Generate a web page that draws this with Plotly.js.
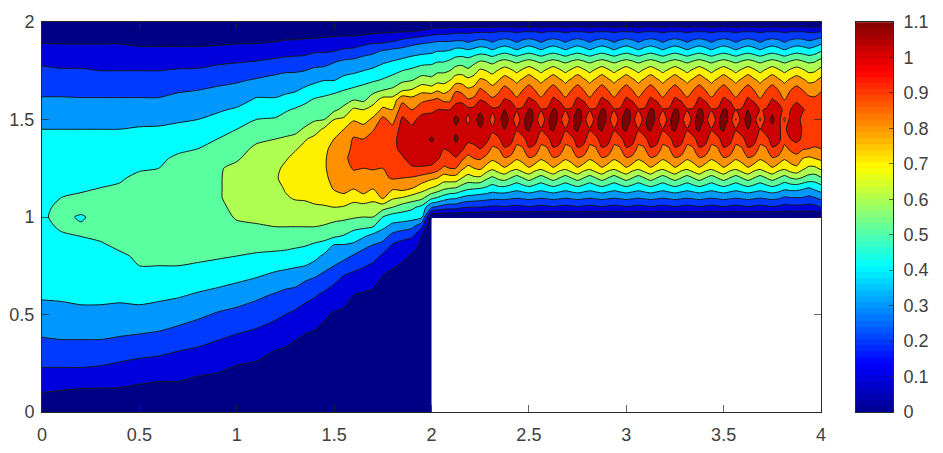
<!DOCTYPE html>
<html><head><meta charset="utf-8">
<script src="https://cdn.plot.ly/plotly-3.0.1.min.js"></script>
<style>html,body{margin:0;padding:0;background:#fff}#c{width:943px;height:453px}</style>
</head><body><div id="c"></div>
<script>
var yRows=[0,.1,.2,.3,.4,.5,.6,.7,.75,.8,.85,.9,.95,1,1.05,1.1,1.15,1.2,1.25,1.3,1.35,1.4,1.45,1.5,1.55,1.6,1.65,1.7,1.75,1.8,1.85,1.9,1.95,2];
var xLeft=[0,.1,.2,.3,.4,.5,.6,.7,.8,.9,1,1.1,1.2,1.25,1.3,1.35,1.4,1.45,1.5,1.55,1.6,1.65,1.7,1.75,1.8,1.85,1.9,1.95,2];
// speed x100, one list per x, bottom to top
var columnsLeft=[
[0,10,18,25,31,37,41,43,44,45,46,47,48,49,49,48,47,46,45,44,42,41,40,37,34,31,28,25,22,18,14,9,5,0],
[0,9,18,25,32,38,41,44,45,47,48,49,51,52,51,50,48,47,46,44,43,41,40,37,34,31,28,24,21,17,13,9,5,0],
[0,8,18,25,32,38,42,45,46,47,49,50,51,49,53,51,49,47,46,45,43,41,40,37,34,31,27,24,21,17,13,9,5,0],
[0,8,17,25,32,38,42,45,47,48,49,51,52,53,53,52,50,48,47,45,44,42,40,37,34,31,27,24,20,17,13,9,5,0],
[0,8,16,23,31,37,42,46,48,49,51,53,54,55,55,54,51,49,47,46,44,42,40,37,34,31,27,24,20,16,13,9,5,0],
[0,7,14,22,30,37,43,47,50,51,53,54,55,56,57,56,54,52,49,47,45,43,41,37,34,31,27,24,20,16,12,8,4,0],
[0,6,13,21,29,36,42,47,50,52,53,54,55,56,57,57,56,54,50,48,46,44,41,38,34,31,27,24,20,16,12,8,4,0],
[0,6,13,19,27,34,41,47,50,52,53,54,55,56,57,58,57,56,54,52,48,46,42,39,36,33,29,25,21,16,12,8,4,0],
[0,5,11,18,24,32,39,46,49,52,53,54,55,56,57,58,58,58,57,54,50,47,44,40,37,33,30,26,21,17,12,8,4,0],
[0,5,10,16,22,29,37,45,48,51,53,54,55,56,58,59,59,59,59,57,54,50,47,42,39,35,32,27,23,18,13,8,4,0],
[0,4,8,13,20,27,35,43,47,50,53,55,58,61,62,63,63,63,62,59,56,53,50,45,41,37,33,29,24,19,13,9,4,0],
[0,4,7,12,18,25,32,41,45,49,52,56,59,62,64,65,66,66,65,64,62,58,54,50,44,41,37,31,26,20,14,9,4,0],
[0,3,6,9,15,22,29,38,43,48,52,56,60,62,64,66,67,69,68,67,64,60,55,51,46,41,37,33,28,22,15,10,5,0],
[0,3,6,8,14,20,27,37,42,47,52,56,60,63,66,69,71,73,72,69,65,61,57,53,49,43,38,34,29,23,16,11,5,0],
[0,3,5,8,11,18,26,36,41,46,51,55,60,63,67,71,73,75,74,73,69,62,58,55,51,45,39,35,29,23,17,11,5,0],
[0,2,5,7,10,16,23,33,40,45,50,55,60,64,68,71,73,75,76,76,73,69,61,57,53,48,42,36,30,24,17,12,5,0],
[0,2,4,6,9,14,21,31,37,43,48,54,60,65,69,72,74,76,77,78,76,73,65,59,55,51,45,38,32,26,19,12,6,0],
[0,2,4,6,8,11,18,28,33,38,46,53,59,64,69,74,76,78,79,79,78,76,72,60,56,52,47,40,33,26,19,13,6,0],
[0,2,4,6,8,9,15,24,30,34,38,51,57,63,70,77,81,83,84,84,83,80,76,70,58,54,48,40,35,29,20,13,7,0],
[0,2,3,5,7,9,12,20,26,33,38,49,56,62,69,78,83,86,86,88,86,84,80,72,63,56,50,43,37,31,22,14,7,0],
[0,2,3,5,7,8,10,18,23,29,37,45,53,61,67,73,81,86,91,93,92,91,86,79,72,60,52,45,38,32,23,14,7,0],
[0,2,3,5,6,8,9,16,21,26,32,41,52,60,66,77,85,88,90,94,94,90,84,76,70,58,54,47,40,34,26,16,7,0],
[0,2,3,4,6,7,9,12,18,24,29,36,50,60,66,73,81,85,91,93,95,95,89,82,74,66,57,49,42,35,28,18,8,0],
[0,1,3,4,6,7,8,10,13,18,26,34,42,50,64,82,86,88,90,95,97,98,97,93,82,74,60,51,45,38,31,18,9,0],
[0,1,2,3,5,6,7,8,11,14,18,26,37,45,60,72,82,91,94,96,98,97,93,86,80,74,62,54,47,40,33,20,9,0],
[0,1,2,3,4,5,6,8,9,12,17,22,35,45,55,70,84,90,95,99,102,104,104,102,95,88,69,58,50,42,34,23,10,0],
[0,1,2,3,3,4,5,7,8,9,13,21,32,44,52,66,81,89,99,103,105,104,102,97,90,84,71,60,52,44,36,26,10,0],
[0,0,1,2,3,3,3,5,6,7,8,10,21,42,47,63,75,86,99,104,107,106,105,104,96,88,77,65,55,46,37,28,12,0],
[0,0,0,0,0,0,0,0,0,0,0,0,0,0,30,53,70,82,98,104,108,111,106,104,98,90,75,63,55,47,38,29,15,0]
];
var xRight=[2.001,2.03125,2.0625,2.09375,2.125,2.15625,2.1875,2.21875,2.25,2.28125,2.3125,2.34375,2.375,2.40625,2.4375,2.46875,2.5,2.53125,2.5625,2.59375,2.625,2.65625,2.6875,2.71875,2.75,2.78125,2.8125,2.84375,2.875,2.90625,2.9375,2.96875,3,3.03125,3.0625,3.09375,3.125,3.15625,3.1875,3.21875,3.25,3.28125,3.3125,3.34375,3.375,3.40625,3.4375,3.46875,3.5,3.53125,3.5625,3.59375,3.625,3.65625,3.6875,3.71875,3.75,3.78125,3.8125,3.84375,3.875,3.90625,3.9375,3.96875,4];
// y = 1.00 ... 2.00 in steps of 0.05
var columnsRight=[
[0,30,53,70,82,98,104,108,111,106,104,98,90,75,63,55,47,38,29,15,0],
[0,28,50,67,80,94,101,105,108,105,103,100,92,79,67,58,49,40,30,16,0],
[0,25,46,63,75,88,97,100,103,103,100,100,88,76,67,58,49,40,30,16,0],
[0,24,43,61,76,90,98,101,104,106,104,100,88,80,70,60,51,41,30,17,0],
[0,24,42,60,76,90,99,106,112,108,113,105,97,89,76,65,54,44,31,18,0],
[0,21,39,56,70,82,92,102,107,106,107,107,97,87,76,66,55,44,31,18,0],
[0,20,37,53,66,77,87,95,103,103,97,103,91,82,73,62,54,42,29,18,0],
[0,20,36,52,68,80,90,97,104,107,106,103,93,84,75,66,57,44,31,19,0],
[0,20,35,51,68,82,91,100,108,109,115,108,100,92,82,72,60,46,33,19,0],
[0,19,34,49,62,76,87,96,103,103,106,108,97,88,80,70,59,45,32,19,0],
[0,18,33,46,58,72,82,88,96,102,96,102,92,84,76,67,57,42,29,19,0],
[0,18,33,48,62,76,84,90,98,108,105,102,95,88,80,71,60,45,32,20,0],
[0,19,33,48,64,79,89,99,106,110,117,110,101,94,85,75,62,47,34,20,0],
[0,18,32,46,60,74,87,97,104,102,106,109,99,90,82,72,60,45,32,20,0],
[0,17,31,44,56,72,81,87,94,101,94,101,92,85,78,68,58,42,29,19,0],
[0,18,32,46,60,76,83,89,96,109,106,102,95,90,82,72,60,45,32,20,0],
[0,19,33,48,64,79,89,99,106,111,118,111,102,95,86,76,62,47,34,20,0],
[0,18,32,46,60,74,87,97,104,101,106,109,99,90,82,72,60,45,32,20,0],
[0,17,31,44,56,72,81,87,94,101,92,101,92,85,78,68,58,42,29,19,0],
[0,18,32,46,60,76,83,89,96,109,106,101,95,90,82,72,60,45,32,20,0],
[0,19,33,48,64,79,89,99,106,111,118,111,102,95,86,76,62,47,34,20,0],
[0,18,32,46,60,74,87,97,104,101,106,109,99,90,82,72,60,45,32,20,0],
[0,17,31,44,56,72,81,87,94,101,90,101,92,85,78,68,58,42,29,19,0],
[0,18,32,46,60,76,83,89,96,109,106,101,95,90,82,72,60,45,32,20,0],
[0,19,33,48,64,79,89,99,106,111,118,111,102,95,86,76,62,47,34,20,0],
[0,18,32,46,60,74,87,97,104,101,106,109,99,90,82,72,60,45,32,20,0],
[0,17,31,44,56,72,81,87,94,101,90,101,92,85,78,68,58,42,29,19,0],
[0,18,32,46,60,76,83,89,96,109,106,101,95,90,82,72,60,45,32,20,0],
[0,19,33,48,64,79,89,99,106,111,118,111,102,95,86,76,62,47,34,20,0],
[0,18,32,46,60,74,87,97,104,101,106,109,99,90,82,72,60,45,32,20,0],
[0,17,31,44,56,72,81,87,94,101,90,101,92,85,78,68,58,42,29,19,0],
[0,18,32,46,60,76,83,89,96,109,106,101,95,90,82,72,60,45,32,20,0],
[0,19,33,48,64,79,89,99,106,111,118,111,102,95,86,76,62,47,34,20,0],
[0,18,32,46,60,74,87,97,104,101,106,109,99,90,82,72,60,45,32,20,0],
[0,17,31,44,56,72,81,87,94,101,90,101,92,85,78,68,58,42,29,19,0],
[0,18,32,46,60,76,83,89,96,109,106,101,95,90,82,72,60,45,32,20,0],
[0,19,33,48,64,79,89,99,106,111,118,111,102,95,86,76,62,47,34,20,0],
[0,18,32,46,60,74,87,97,104,101,106,109,99,90,82,72,60,45,32,20,0],
[0,17,31,44,56,72,81,87,94,101,90,101,92,85,78,68,58,42,29,19,0],
[0,18,32,46,60,76,83,89,96,109,106,101,95,90,82,72,60,45,32,20,0],
[0,19,33,48,64,79,89,99,106,111,118,111,102,95,86,76,62,47,34,20,0],
[0,18,32,46,60,74,87,97,104,101,106,109,99,90,82,72,60,45,32,20,0],
[0,17,31,44,56,72,81,87,94,101,90,101,92,85,78,68,58,42,29,19,0],
[0,18,32,46,60,76,83,89,96,109,106,101,95,90,82,72,60,45,32,20,0],
[0,19,33,48,64,79,89,99,106,111,117,111,102,95,86,76,62,47,34,20,0],
[0,18,32,46,60,74,87,97,104,101,106,109,99,90,82,72,60,45,32,20,0],
[0,17,31,44,56,72,81,87,94,101,90,101,92,85,78,68,58,42,29,19,0],
[0,18,32,46,60,76,83,89,96,109,106,101,95,90,82,72,60,45,32,20,0],
[0,19,33,48,64,79,89,99,106,111,117,111,102,95,86,76,62,47,34,20,0],
[0,18,32,46,60,74,87,97,104,101,106,109,99,90,82,72,60,45,32,20,0],
[0,17,31,44,56,72,81,87,94,101,89,100,92,85,78,68,58,42,29,19,0],
[0,18,32,46,60,76,83,89,96,108,105,101,95,90,82,72,60,45,32,20,0],
[0,19,33,48,64,79,89,99,106,110,115,110,102,95,86,76,62,47,34,20,0],
[0,18,32,46,60,74,87,97,104,101,105,108,98,90,82,72,60,45,32,20,0],
[0,17,31,44,56,72,81,87,94,100,88,99,91,85,78,68,58,42,29,19,0],
[0,18,32,46,60,76,83,89,96,106,105,101,95,90,82,72,60,45,32,20,0],
[0,19,33,48,64,79,89,99,105,108,112,108,101,95,86,76,62,47,34,20,0],
[0,18,32,46,60,74,87,97,103,101,105,106,97,90,82,72,60,45,32,20,0],
[0,16,29,43,56,72,81,87,94,98,88,96,90,85,78,68,58,42,29,19,0],
[0,17,30,44,60,76,84,92,100,105,104,100,94,90,82,72,60,45,32,20,0],
[0,17,30,44,62,78,86,95,103,105,104,103,99,94,85,75,62,47,34,20,0],
[0,17,30,42,59,72,80,91,98,99,97,101,95,90,82,72,60,46,33,20,0],
[0,16,28,40,56,68,78,90,96,97,95,97,93,86,78,68,58,44,31,19,0],
[0,17,30,43,55,68,80,89,94,97,97,95,92,86,79,69,59,46,33,19,0],
[0,20,33,46,59,72,82,90,94,96,97,97,95,89,83,74,63,50,36,20,0]
];
var bandColours=['rgb(0,0,135)','rgb(0,0,220)','rgb(0,58,255)','rgb(0,151,255)','rgb(0,255,255)','rgb(90,255,160)','rgb(174,255,81)','rgb(255,240,0)','rgb(255,145,0)','rgb(255,58,0)','rgb(204,0,0)','rgb(128,0,0)'];
var barValues=[.009,.026,.043,.060,.077,.095,.112,.129,.146,.163,.180,.198,.215,.232,.249,.266,.284,.301,.318,.335,.352,.369,.387,.404,.421,.438,.455,.473,.490,.507,.524,.541,.558,.576,.593,.610,.627,.644,.662,.679,.696,.713,.730,.747,.765,.782,.799,.816,.833,.851,.868,.885,.902,.919,.936,.954,.971,.988,1.005,1.022,1.040,1.057,1.074,1.091];
var jetStops=[[0,'rgb(0,0,143)'],[.125,'rgb(0,0,255)'],[.375,'rgb(0,255,255)'],[.625,'rgb(255,255,0)'],[.875,'rgb(255,0,0)'],[1,'rgb(128,0,0)']];

var firstUpper=yRows.indexOf(1);
var z=yRows.map(function(y,r){
  var row=columnsLeft.map(function(c){return c[r]/100;});
  columnsRight.forEach(function(c){row.push(r<firstUpper?null:c[r-firstUpper]/100);});
  return row;
});
var fieldScale=bandColours.map(function(c,i){return [i/(bandColours.length-1),c];});
var ink='#262626', font={family:'"Liberation Sans",Arial,sans-serif',size:18,color:'#404040'};
var axisBase={showgrid:false,zeroline:false,ticks:'inside',ticklen:7,tickwidth:.7,tickcolor:ink,linecolor:ink,linewidth:1,mirror:'ticks',tickfont:font};
var traces=[
 {type:'contour',x:xLeft.concat(xRight),y:yRows,z:z,connectgaps:false,autocontour:false,
  contours:{start:.1,end:1.1,size:.1,coloring:'fill',showlines:true},
  line:{color:'#1a1a1a',width:1,smoothing:.7},colorscale:fieldScale,showscale:false,hoverinfo:'skip'},
 {type:'heatmap',xaxis:'x2',yaxis:'y2',x:[0],y:barValues,z:barValues.map(function(v){return [v];}),
  zmin:0,zmax:1.1,colorscale:jetStops,showscale:false,hoverinfo:'skip'}
];
var layout={width:943,height:453,margin:{l:42,r:50,t:22,b:41},paper_bgcolor:'#fff',plot_bgcolor:'#fff',showlegend:false,
 xaxis:Object.assign({},axisBase,{domain:[0,779/851],range:[0,4],dtick:.5,tick0:0,ticklabelstandoff:6}),
 yaxis:Object.assign({},axisBase,{range:[0,2],dtick:.5,tick0:0,ticklabelstandoff:3}),
 xaxis2:{domain:[814/851,1],range:[-.5,.5],anchor:'y2',showticklabels:false,ticks:'',showgrid:false,zeroline:false,linecolor:ink,linewidth:1,mirror:true},
 yaxis2:{anchor:'x2',side:'right',range:[0,1.1],dtick:.1,tick0:0,ticks:'inside',ticklen:4,tickwidth:.7,tickcolor:ink,showgrid:false,zeroline:false,linecolor:ink,linewidth:1,mirror:true,tickfont:font,ticklabelstandoff:6}
};
Plotly.newPlot('c',traces,layout,{displayModeBar:false,staticPlot:true});
</script></body></html>
